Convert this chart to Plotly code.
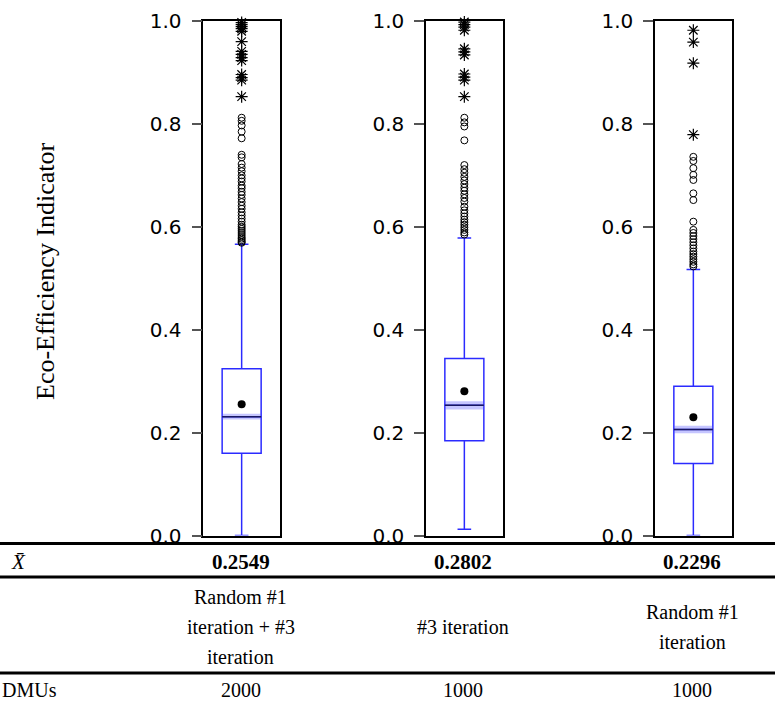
import plotly.graph_objects as go

# ---------------- data ----------------
groups = ["Random #1 iteration + #3 iteration", "#3 iteration", "Random #1 iteration"]
group_label_lines = [["Random #1", "iteration + #3", "iteration"],
                     ["#3 iteration"],
                     ["Random #1", "iteration"]]
means = [0.2549, 0.2802, 0.2296]
mean_labels = ["0.2549", "0.2802", "0.2296"]
dmus = [2000, 1000, 1000]

q1 = [0.160, 0.184, 0.140]
median = [0.231, 0.253, 0.206]
q3 = [0.324, 0.344, 0.290]
lower_whisker = [0.0, 0.012, 0.0]
upper_whisker = [0.566, 0.578, 0.517]

mild_outliers = [
    [0.812, 0.806, 0.797, 0.785, 0.772, 0.740, 0.735, 0.722, 0.715, 0.708, 0.700,
     0.694, 0.688, 0.680, 0.675, 0.668, 0.662, 0.655, 0.648, 0.641, 0.635, 0.628,
     0.622, 0.616, 0.610, 0.604, 0.600, 0.596, 0.592, 0.588, 0.584, 0.580, 0.577,
     0.574, 0.571, 0.569],
    [0.812, 0.803, 0.795, 0.768, 0.720, 0.712, 0.705, 0.697, 0.690, 0.683, 0.676,
     0.670, 0.663, 0.656, 0.649, 0.639, 0.632, 0.626, 0.620, 0.614, 0.609, 0.604,
     0.599, 0.594, 0.589, 0.585],
    [0.736, 0.728, 0.714, 0.701, 0.691, 0.665, 0.652, 0.610, 0.594, 0.588, 0.582,
     0.576, 0.570, 0.564, 0.558, 0.552, 0.547, 0.542, 0.537, 0.532, 0.527, 0.523],
]
extreme_outliers = [
    [0.997, 0.993, 0.989, 0.985, 0.980, 0.960, 0.941, 0.935, 0.929, 0.923, 0.896,
     0.890, 0.885, 0.853],
    [0.998, 0.993, 0.988, 0.982, 0.946, 0.940, 0.934, 0.897, 0.891, 0.885, 0.853],
    [0.982, 0.959, 0.918, 0.779],
]

y_tick_vals = [0.0, 0.2, 0.4, 0.6, 0.8, 1.0]
y_tick_text = ["0.0", "0.2", "0.4", "0.6", "0.8", "1.0"]
y_title = "Eco-Efficiency Indicator"
row_head_mean = "<i>X\u0304</i>"
row_head_n = "DMUs"

# ---------------- layout helpers (pixels) ----------------
W, H = 775, 701
panel_left = [203.3, 426.0, 655.0]
panel_width = 76.7
plot_top, plot_bottom = 21.0, 535.5
box_px = 39.0

def px(x):
    return x / W

def py(y):
    return 1 - y / H

SERIF = "Liberation Serif, Times New Roman, serif"
SANS = "DejaVu Sans, sans-serif"

fig = go.Figure()
layout = dict(
    width=W, height=H,
    margin=dict(l=0, r=0, t=0, b=0, pad=0, autoexpand=False),
    paper_bgcolor="white", plot_bgcolor="white",
    showlegend=False,
)

annotations = []
shapes = []

for i in range(3):
    sfx = "" if i == 0 else str(i + 1)
    xa, ya = "x" + sfx, "y" + sfx
    bw = box_px / panel_width
    half = bw / 2
    # notch-like median confidence band
    hw = 1.57 * (q3[i] - q1[i]) / (dmus[i] ** 0.5)

    fig.add_trace(go.Box(
        x=[0], q1=[q1[i]], median=[median[i]], q3=[q3[i]],
        lowerfence=[lower_whisker[i]], upperfence=[upper_whisker[i]],
        width=bw, whiskerwidth=0.35, boxpoints=False,
        line=dict(color="rgba(20,20,255,0.9)", width=1.5),
        fillcolor="rgba(0,0,0,0)",
        xaxis=xa, yaxis=ya, hoverinfo="skip",
    ))
    # median band
    fig.add_trace(go.Scatter(
        x=[-half, half, half, -half, -half],
        y=[median[i] - hw, median[i] - hw, median[i] + hw, median[i] + hw, median[i] - hw],
        fill="toself", fillcolor="rgba(90,90,255,0.35)", mode="none",
        xaxis=xa, yaxis=ya, hoverinfo="skip",
    ))
    # median line
    fig.add_trace(go.Scatter(
        x=[-half, half], y=[median[i], median[i]], mode="lines",
        line=dict(color="rgba(20,20,80,0.9)", width=1.5),
        xaxis=xa, yaxis=ya, hoverinfo="skip",
    ))
    # mean dot
    fig.add_trace(go.Scatter(
        x=[0], y=[means[i]], mode="markers",
        marker=dict(color="black", size=8),
        xaxis=xa, yaxis=ya, hoverinfo="skip",
    ))
    # mild outliers
    fig.add_trace(go.Scatter(
        x=[0] * len(mild_outliers[i]), y=mild_outliers[i], mode="markers",
        marker=dict(symbol="circle-open", size=7, color="black", line=dict(width=1)),
        cliponaxis=False, xaxis=xa, yaxis=ya, hoverinfo="skip",
    ))
    # extreme outliers
    fig.add_trace(go.Scatter(
        x=[0] * len(extreme_outliers[i]), y=extreme_outliers[i], mode="markers",
        marker=dict(symbol="asterisk-open", size=10, color="black", line=dict(width=1.2)),
        cliponaxis=False, xaxis=xa, yaxis=ya, hoverinfo="skip",
    ))

    layout["xaxis" + sfx] = dict(
        domain=[px(panel_left[i]), px(panel_left[i] + panel_width)],
        range=[-0.5, 0.5], anchor=ya, automargin=False,
        showticklabels=False, ticks="", showgrid=False, zeroline=False,
        showline=True, mirror=True, linecolor="black", linewidth=1.5,
    )
    layout["yaxis" + sfx] = dict(
        domain=[py(plot_bottom), py(plot_top)],
        range=[0, 1], anchor=xa, automargin=False,
        tickvals=y_tick_vals, ticktext=y_tick_text,
        ticks="outside", ticklen=10, tickwidth=1.5, tickcolor="#555555",
        ticklabelstandoff=6,
        tickfont=dict(family=SANS, size=20, color="black"),
        showgrid=False, zeroline=False,
        showline=True, mirror=True, linecolor="black", linewidth=1.5,
    )

    cx = px(panel_left[i] + panel_width / 2 - 1)
    # mean row
    annotations.append(dict(
        x=cx, y=py(561.5), xref="paper", yref="paper", showarrow=False,
        text="<b>" + mean_labels[i] + "</b>",
        font=dict(family=SERIF, size=21, color="black"),
        xanchor="center", yanchor="middle",
    ))
    # description row
    lines = group_label_lines[i]
    n = len(lines)
    for k, t in enumerate(lines):
        yc = 626.7 + (k - (n - 1) / 2) * 30
        annotations.append(dict(
            x=cx, y=py(yc), xref="paper", yref="paper", showarrow=False,
            text=t, font=dict(family=SERIF, size=20, color="black"),
            xanchor="center", yanchor="middle",
        ))
    # DMUs row
    annotations.append(dict(
        x=cx, y=py(690), xref="paper", yref="paper", showarrow=False,
        text=str(dmus[i]), font=dict(family=SERIF, size=20, color="black"),
        xanchor="center", yanchor="middle",
    ))

# row headers
annotations.append(dict(
    x=px(18), y=py(561.5), xref="paper", yref="paper", showarrow=False,
    text=row_head_mean, font=dict(family=SERIF, size=21, color="black"),
    xanchor="center", yanchor="middle",
))
annotations.append(dict(
    x=px(0), y=py(690), xref="paper", yref="paper", showarrow=False,
    text=row_head_n, font=dict(family=SERIF, size=20, color="black"),
    xanchor="left", yanchor="middle",
))
# y title
annotations.append(dict(
    x=px(45), y=py(271), xref="paper", yref="paper", showarrow=False,
    text=y_title, textangle=-90,
    font=dict(family=SERIF, size=26, color="black"),
    xanchor="center", yanchor="middle",
))

# table rules
for yline in [543.5, 577.0, 673.0]:
    shapes.append(dict(
        type="line", xref="paper", yref="paper",
        x0=0, x1=1, y0=py(yline), y1=py(yline),
        line=dict(color="black", width=3),
    ))

layout["annotations"] = annotations
layout["shapes"] = shapes
fig.update_layout(**layout)

fig.write_html("out.html", config={"displayModeBar": False},
               post_script="document.body.style.margin='0px';")
